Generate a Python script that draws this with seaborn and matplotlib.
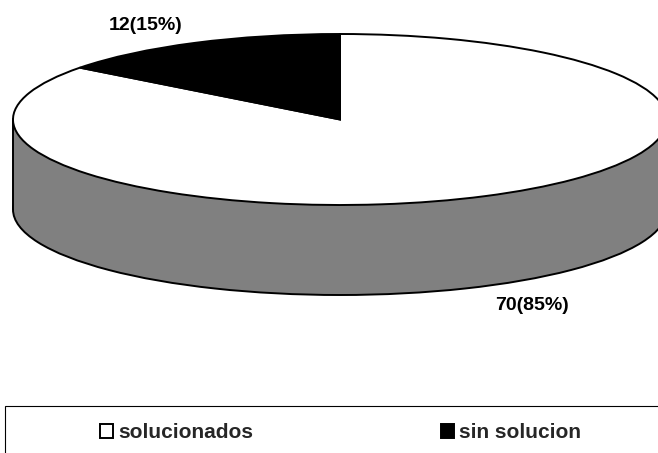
import matplotlib
matplotlib.use("Agg")
import matplotlib.pyplot as plt
from matplotlib.patches import Patch, Rectangle
import seaborn as sns

categories = ["solucionados", "sin solucion"]
values = [70, 12]
percent_labels = ["70(85%)", "12(15%)"]
colors = ["white", "black"]

sns.set_theme(style="white")
plt.rcParams["font.family"] = ["Liberation Sans", "DejaVu Sans"]

W, H = 658, 453
fig = plt.figure(figsize=(W / 100, H / 100), dpi=100, facecolor="white")
ax = fig.add_axes([0, 0, 1, 1])

cx, cy, a, b, depth_px = 340, 119.5, 327, 85.5, 90
depth = depth_px / b
edge = dict(edgecolor="black", linewidth=1.4)

# side wall of the disc
ax.pie([sum(values)], colors=["#808080"], radius=1, center=(0, -depth),
       startangle=90, wedgeprops=edge)
ax.add_patch(Rectangle((-1, -depth), 2, depth, facecolor="#808080", edgecolor="none"))
ax.plot([-1, -1], [-depth, 0], color="black", lw=1.4)
ax.plot([1, 1], [-depth, 0], color="black", lw=1.4)

# top face
start = 90 + 360 * values[1] / sum(values)
ax.pie(values, colors=colors, radius=1, center=(0, 0), startangle=start, wedgeprops=edge)

ax.set_aspect("auto")
ax.set_xlim(-cx / a, (W - cx) / a)
ax.set_ylim(-(H - cy) / b, cy / b)
ax.set_axis_off()

fig.text(532 / W, 1 - 306 / H, percent_labels[0], ha="center", va="center",
         fontsize=14, fontweight="bold", color="black")
fig.text(146 / W, 1 - 25 / H, percent_labels[1], ha="center", va="center",
         fontsize=14, fontweight="bold", color="black")

# legend box runs off the right and bottom edges
fig.add_artist(Rectangle((5 / W, -20 / H), (W + 20) / W, (H - 406 + 20) / H,
                         transform=fig.transFigure, facecolor="none",
                         edgecolor="black", linewidth=0.8))
handles = [Patch(facecolor=c, edgecolor="black", linewidth=1.4) for c in colors]
fig.legend(handles, categories, loc="center left", ncol=2, frameon=False,
           bbox_to_anchor=(100 / W, 1 - 433 / H), bbox_transform=fig.transFigure,
           prop=dict(weight="bold", size=15), handlelength=0.62, handleheight=0.62,
           handletextpad=0.25, columnspacing=9.0, borderpad=0, borderaxespad=0)

fig.savefig("out.png", dpi=100)
